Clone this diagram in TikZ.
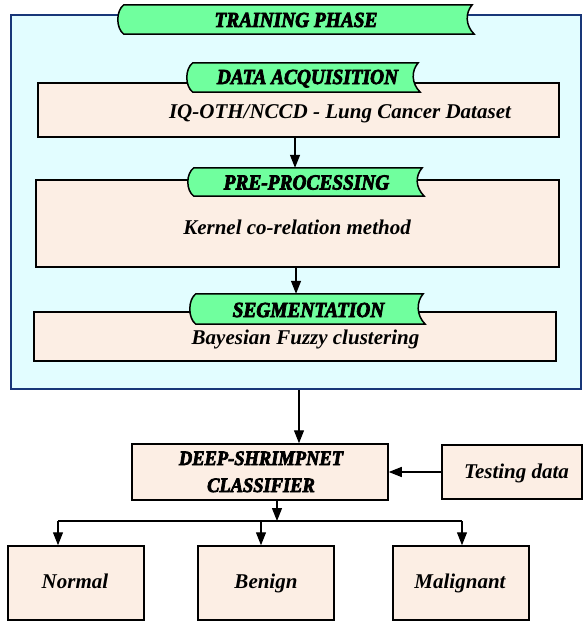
\documentclass[tikz,border=0pt]{standalone}
\usepackage{fontspec}
\setmainfont{Liberation Serif}
\newfontfamily\bannerfont{Liberation Serif}[BoldItalicFeatures={FakeBold=3.5,FakeStretch=0.9}]
\usetikzlibrary{arrows.meta,calc}
\definecolor{outerfill}{RGB}{226,253,255}
\definecolor{outerline}{RGB}{24,54,120}
\definecolor{boxfill}{RGB}{252,238,228}
\definecolor{bannerfill}{RGB}{112,255,158}
\newcommand\bannershape[1]{%
  \draw[bannerline] ($(#1.north west)+(5,0)$) -- ($(#1.north east)$)
    .. controls ($(#1.north east)+(-7,8)$) and ($(#1.south east)+(-7,-9)$) .. ($(#1.south east)+(2,0)$)
    -- ($(#1.south west)+(5,0)$)
    .. controls ($(#1.south west)+(-3,-6)$) and ($(#1.north west)+(-3,6)$) .. cycle;}
\begin{document}
\begin{tikzpicture}[x=1pt,y=-1pt,
  outerbox/.style={draw=outerline, line width=1.6pt, fill=outerfill, inner sep=0, minimum width=#1},
  box/.style={draw=black, line width=1.5pt, fill=boxfill, inner sep=0},
  bannerslot/.style={inner sep=0, draw=none},
  bannerline/.style={draw=black, line width=1.5pt, fill=bannerfill},
  txt/.style={font=\fontsize{21}{24}\selectfont\bfseries\itshape, inner sep=0, anchor=base},
  bantxt/.style={font=\bannerfont\fontsize{21.5}{24}\selectfont\bfseries\itshape, inner sep=0, anchor=base},
  clstxt/.style={font=\bannerfont\fontsize{20.5}{23}\selectfont\bfseries\itshape, inner sep=0, anchor=base},
  arr/.style={line width=1.3pt, -{Triangle[length=13pt,width=10pt]}},
  ln/.style={line width=1.3pt}]
\useasboundingbox (0,0) rectangle (582,621);
\fill[white] (0,0) rectangle (582,621);

% outer training box
\node[outerbox=570pt, minimum height=374pt] (outer) at (296,202) {};
\node[bannerslot, minimum width=353pt, minimum height=29pt] (bTrain) at (295.5,19.5) {};
\bannershape{bTrain}
\node[bantxt] (tTrain) at (296,27) {TRAINING PHASE};

% inner boxes
\node[box, minimum width=521pt, minimum height=54pt] (acq) at (298.5,110) {};
\node[box, minimum width=523pt, minimum height=87pt] (pre) at (297.5,223.5) {};
\node[box, minimum width=522pt, minimum height=49pt] (seg) at (295,336.5) {};

\node[bannerslot, minimum width=230pt, minimum height=29pt] (bAcq) at (303,77.5) {};
\bannershape{bAcq}
\node[bantxt] (tAcq) at (307.5,84) {DATA ACQUISITION};
\node[bannerslot, minimum width=233pt, minimum height=28pt] (bPre) at (305.5,182) {};
\bannershape{bPre}
\node[bantxt] (tPre) at (306.5,189.5) {PRE-PROCESSING};
\node[bannerslot, minimum width=232pt, minimum height=30pt] (bSeg) at (307,309) {};
\bannershape{bSeg}
\node[bantxt] (tSeg) at (308.5,317) {SEGMENTATION};

\node[txt] (acqText) at (340,118) {IQ-OTH/NCCD - Lung Cancer Dataset};
\node[txt] (preText) at (297,234) {Kernel co-relation method};
\node[txt] (segText) at (305.5,344) {Bayesian Fuzzy clustering};

% lower part
\node[box, minimum width=256pt, minimum height=56pt] (cls) at (260,472) {};
\node[clstxt] (cls1) at (261,465) {DEEP-SHRIMPNET};
\node[clstxt] (cls2) at (261,492) {CLASSIFIER};
\node[box, minimum width=140pt, minimum height=54pt] (test) at (512,472) {};
\node[txt] (testText) at (516.5,478) {Testing data};

\node[box, minimum width=136pt, minimum height=74pt] (normal) at (76,583) {};
\node[box, minimum width=136pt, minimum height=74pt] (benign) at (266,583) {};
\node[box, minimum width=136pt, minimum height=74pt] (malig) at (461,583) {};
\node[txt] (normalText) at (75,588) {Normal};
\node[txt] (benignText) at (266,588) {Benign};
\node[txt] (maligText) at (460,588) {Malignant};

% connectors
\draw[arr] (acq.south -| 295,0) -- (bPre.north -| 295,0);
\draw[arr] (pre.south -| 296,0) -- (bSeg.north -| 296,0);
\draw[arr] (outer.south -| 299,0) -- (cls.north -| 299,0);
\draw[arr] (test.west) -- (cls.east);
\coordinate (split) at (277,521);
\coordinate (leftEnd) at (58,521);
\coordinate (rightEnd) at (462,521);
\draw[arr] (cls.south -| split) -- (split);
\draw[ln] (leftEnd) -- (rightEnd);
\draw[arr] (leftEnd) -- (leftEnd |- normal.north);
\draw[arr] (261,521) -- (benign.north -| 261,0);
\draw[arr] (rightEnd) -- (rightEnd |- malig.north);
\end{tikzpicture}
\end{document}
